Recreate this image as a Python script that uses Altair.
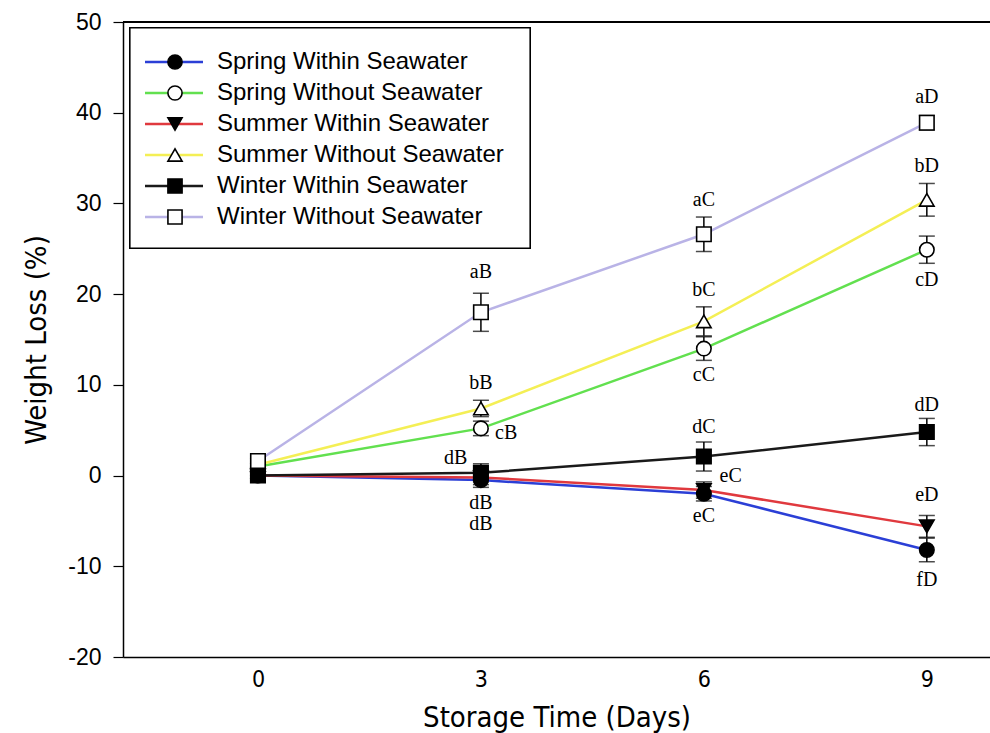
import altair as alt
import pandas as pd

# ---- data ----
days = [0, 3, 6, 9]
series = [
    "Spring Within Seawater",
    "Spring Without Seawater",
    "Summer Within Seawater",
    "Summer Without Seawater",
    "Winter Within Seawater",
    "Winter Without Seawater",
]
spring_within = [0.0, -0.5, -2.0, -8.2]
spring_without = [1.0, 5.2, 14.0, 24.9]
summer_within = [0.0, -0.2, -1.6, -5.6]
summer_without = [1.2, 7.4, 17.0, 30.4]
winter_within = [0.0, 0.3, 2.1, 4.8]
winter_without = [1.6, 18.0, 26.6, 38.9]

err_spring_within = [0.3, 0.8, 0.8, 1.3]
err_spring_without = [0.3, 0.8, 1.3, 1.5]
err_summer_within = [0.3, 0.8, 0.9, 1.2]
err_summer_without = [0.3, 0.9, 1.6, 1.8]
err_winter_within = [0.3, 1.0, 1.6, 1.5]
err_winter_without = [0.3, 2.1, 1.9, 0.8]

# letter annotations (data coordinates)
ann_text = ["aB", "bB", "cB", "dB", "dB", "dB",
            "aC", "bC", "cC", "dC", "eC", "eC",
            "aD", "bD", "cD", "dD", "eD", "fD"]
ann_x = [3, 3, 3.34, 2.66, 3, 3,
         6, 6, 6, 6, 6.36, 6,
         9, 9, 9, 9, 9, 9]
ann_y = [22.4, 10.25, 4.7, 1.9, -3.0, -5.3,
         30.4, 20.5, 11.1, 5.4, -0.1, -4.5,
         41.7, 34.1, 21.6, 7.8, -2.1, -11.5]

y_ticks = [-20, -10, 0, 10, 20, 30, 40, 50]

colors = ["#2b3fd6", "#62e04f", "#e0393e", "#f4ef55", "#1a1a1a", "#b9b3e6"]
shapes = ["circle", "circle", "triangle-down", "triangle-up", "square", "square"]
fills = ["black", "white", "black", "white", "black", "white"]

# ---- tables ----
vals = [spring_within, spring_without, summer_within, summer_without, winter_within, winter_without]
errs = [err_spring_within, err_spring_without, err_summer_within, err_summer_without,
        err_winter_within, err_winter_without]
rows = []
for i, s in enumerate(series):
    for d, v, e in zip(days, vals[i], errs[i]):
        rows.append({"series": s, "order": i, "day": d, "value": v,
                     "lo": v - e, "hi": v + e})
df = pd.DataFrame(rows)
ann = pd.DataFrame({"label": ann_text, "x": ann_x, "y": ann_y})
leg = pd.DataFrame({"series": series, "idx": list(range(len(series)))})

NARROW = "Liberation Sans Narrow, DejaVu Sans Condensed, Liberation Sans"

W, H = 867, 635
xscale = alt.Scale(domain=[-1.816, 9.85], nice=False, zero=False)
yscale = alt.Scale(domain=[-20, 50], nice=False, zero=False)
cscale = alt.Scale(domain=series, range=colors)
sscale = alt.Scale(domain=series, range=shapes)
fscale = alt.Scale(domain=series, range=fills)

xaxis = alt.Axis(values=days, format="d", ticks=False, grid=False, domainColor="black",
                 domainWidth=1.5, labelFont=NARROW, labelFontSize=23,
                 labelColor="black", labelPadding=11, title="Storage Time (Days)",
                 titleFont=NARROW, titleFontSize=29, titleFontWeight="normal",
                 titleColor="black", titlePadding=12)
yaxis = alt.Axis(values=y_ticks, grid=False, domainColor="black",
                 domainWidth=1.5, tickColor="black", tickSize=10, tickWidth=1.2,
                 labelExpr="datum.value < 0 ? '-' + abs(datum.value) : '' + datum.value",
                 labelFont="Liberation Sans", labelFontSize=23, labelColor="black",
                 labelPadding=12, title="Weight Loss (%)", titleFont=NARROW,
                 titleFontSize=29, titleFontWeight="normal", titleColor="black", titlePadding=16)

base = alt.Chart(df)

lines = base.mark_line(strokeWidth=2.5).encode(
    x=alt.X("day:Q", scale=xscale, axis=xaxis),
    y=alt.Y("value:Q", scale=yscale, axis=yaxis),
    color=alt.Color("series:N", scale=cscale, legend=None),
    detail="series:N",
    order="day:Q",
)

bars = base.mark_rule(color="black", strokeWidth=1.5).encode(
    x=alt.X("day:Q", scale=xscale),
    y=alt.Y("lo:Q", scale=yscale),
    y2="hi:Q",
)
cap_lo = base.mark_tick(color="black", orient="horizontal", size=16, thickness=1.5).encode(
    x=alt.X("day:Q", scale=xscale), y=alt.Y("lo:Q", scale=yscale))
cap_hi = base.mark_tick(color="black", orient="horizontal", size=16, thickness=1.5).encode(
    x=alt.X("day:Q", scale=xscale), y=alt.Y("hi:Q", scale=yscale))

points = base.mark_point(size=210, stroke="black", strokeWidth=1.6, opacity=1).encode(
    x=alt.X("day:Q", scale=xscale),
    y=alt.Y("value:Q", scale=yscale),
    shape=alt.Shape("series:N", scale=sscale, legend=None),
    fill=alt.Fill("series:N", scale=fscale, legend=None),
    order=alt.Order("order:Q"),
)

labels = alt.Chart(ann).mark_text(font="Liberation Serif", fontSize=20, color="black",
                                  baseline="middle", align="center").encode(
    x=alt.X("x:Q", scale=xscale), y=alt.Y("y:Q", scale=yscale), text="label:N")

frame_top = alt.Chart(ann).mark_rule(color="black", strokeWidth=1.5).encode(
    x=alt.value(0), x2=alt.value(W), y=alt.value(0))

# ---- manual legend ----
legbox = alt.Chart(ann).mark_rect(fill="white", stroke="black", strokeWidth=1.2).encode(
    x=alt.value(7), x2=alt.value(407), y=alt.value(6), y2=alt.value(226))
legbase = alt.Chart(leg).transform_calculate(ly="40 + 31 * datum.idx")
leglines = legbase.mark_rule(strokeWidth=2.5).encode(
    x=alt.value(22), x2=alt.value(80),
    y=alt.Y("ly:Q", scale=None),
    color=alt.Color("series:N", scale=cscale, legend=None))
legpts = legbase.mark_point(size=200, stroke="black", strokeWidth=1.6, opacity=1).encode(
    x=alt.value(52),
    y=alt.Y("ly:Q", scale=None),
    shape=alt.Shape("series:N", scale=sscale, legend=None),
    fill=alt.Fill("series:N", scale=fscale, legend=None))
legtext = legbase.mark_text(font="Liberation Sans", fontSize=24, color="black",
                            align="left", baseline="middle").encode(
    x=alt.value(94), y=alt.Y("ly:Q", scale=None), text="series:N")

chart = alt.layer(
    lines, bars, cap_lo, cap_hi, points, labels, frame_top,
    legbox, leglines, legpts, legtext
).properties(
    width=W, height=H,
    padding={"left": 123, "top": 22, "right": 0, "bottom": 76},
    autosize=alt.AutoSizeParams(type="none"),
).configure_view(stroke=None).configure(background="white")

chart.save("out.html", embed_options={"renderer": "svg", "actions": False})
